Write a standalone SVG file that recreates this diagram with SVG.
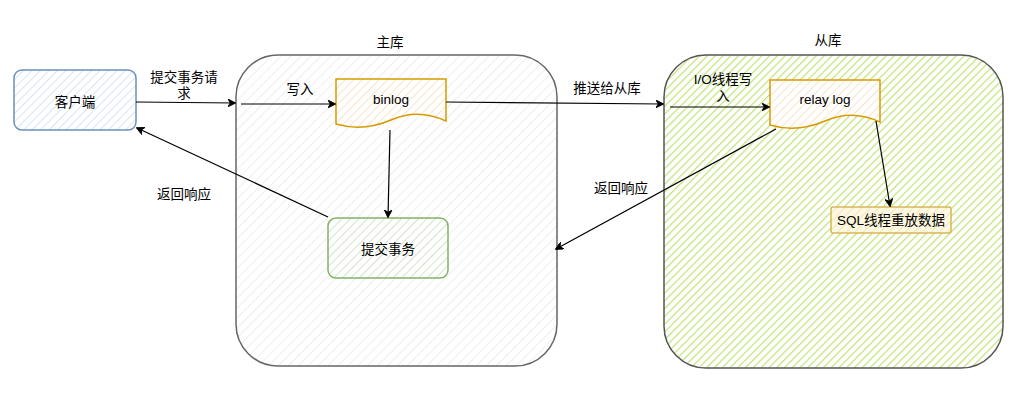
<svg xmlns="http://www.w3.org/2000/svg" width="1017" height="400" viewBox="0 0 1017 400">
<style>
text{font-family:"Liberation Sans","Noto Sans CJK SC",sans-serif;font-size:13.5px;fill:#000;text-anchor:middle;dominant-baseline:central}
.c{fill:none;stroke:#000;stroke-width:1.2}
</style>
<defs>
<pattern id="hGray" width="7" height="7" patternUnits="userSpaceOnUse" patternTransform="rotate(45)"><line x1="0" y1="0" x2="0" y2="7" stroke="#e8e8e8" stroke-width="1.5"/></pattern>
<pattern id="hGreen" width="5.5" height="5.5" patternUnits="userSpaceOnUse" patternTransform="rotate(45)"><line x1="0" y1="0" x2="0" y2="5.5" stroke="#c3e57e" stroke-width="2.6"/></pattern>
<pattern id="hBlue" width="6" height="6" patternUnits="userSpaceOnUse" patternTransform="rotate(45)"><line x1="0" y1="0" x2="0" y2="6" stroke="#c7dcf5" stroke-width="1.5"/></pattern>
<pattern id="hOrange" width="6" height="6" patternUnits="userSpaceOnUse" patternTransform="rotate(45)"><line x1="0" y1="0" x2="0" y2="6" stroke="#fbd9b5" stroke-width="1.5"/></pattern>
<pattern id="hLime" width="6" height="6" patternUnits="userSpaceOnUse" patternTransform="rotate(45)"><line x1="0" y1="0" x2="0" y2="6" stroke="#c2deb9" stroke-width="1.5"/></pattern>
<pattern id="hYellow" width="6" height="6" patternUnits="userSpaceOnUse" patternTransform="rotate(45)"><rect width="6" height="6" fill="#fdf8e4"/><line x1="0" y1="0" x2="0" y2="6" stroke="#f3e3a6" stroke-width="1.5"/></pattern>
<marker id="arr" viewBox="0 0 10 10" refX="9" refY="5" markerWidth="8" markerHeight="8" markerUnits="userSpaceOnUse" orient="auto"><path d="M0,0 L10,5 L0,10 L3,5 Z" fill="#000" stroke="#000" stroke-width="1"/></marker>
</defs>

<g id="master">
<rect x="236" y="55" width="321" height="311" rx="42" fill="url(#hGray)" stroke="#666" stroke-width="1.5"/>
<text x="390" y="42">主库</text>
</g>
<g id="slave">
<rect x="664" y="55" width="339" height="313" rx="42" fill="url(#hGreen)" stroke="#555" stroke-width="1.5"/>
<text x="828" y="40">从库</text>
</g>
<g id="client">
<rect x="14" y="70" width="122" height="60" rx="8" fill="url(#hBlue)" stroke="#6c8ebf" stroke-width="1.5"/>
<text x="75" y="102">客户端</text>
</g>
<g id="binlog">
<path d="M336,79 L446,79 L446,121 Q418,108 391,120 Q363,132 336,124 Z" fill="#fff" stroke="none"/>
<path d="M336,79 L446,79 L446,121 Q418,108 391,120 Q363,132 336,124 Z" fill="url(#hOrange)" stroke="#d79b00" stroke-width="1.5"/>
<text x="391" y="99">binlog</text>
</g>
<g id="relaylog">
<path d="M770,80 L880,80 L880,122 Q852,109 825,121 Q797,133 770,125 Z" fill="#fff" stroke="none"/>
<path d="M770,80 L880,80 L880,122 Q852,109 825,121 Q797,133 770,125 Z" fill="url(#hOrange)" stroke="#d79b00" stroke-width="1.5"/>
<text x="825" y="99">relay log</text>
</g>
<g id="commit">
<rect x="328" y="218" width="120" height="60" rx="8" fill="#fff" stroke="none"/>
<rect x="328" y="218" width="120" height="60" rx="8" fill="url(#hLime)" stroke="#82b366" stroke-width="1.5"/>
<text x="388" y="249">提交事务</text>
</g>
<g id="sql">
<rect x="831" y="207" width="120" height="26" rx="2" fill="url(#hYellow)" stroke="#d6b656" stroke-width="1.5"/>
<text x="891" y="220">SQL线程重放数据</text>
</g>

<g id="connectors">
<line class="c" x1="136" y1="102" x2="235" y2="103" marker-end="url(#arr)"/>
<line class="c" x1="241" y1="104" x2="335" y2="104" marker-end="url(#arr)"/>
<line class="c" x1="446" y1="102" x2="663" y2="104" marker-end="url(#arr)"/>
<line class="c" x1="670" y1="107" x2="769" y2="107" marker-end="url(#arr)"/>
<line class="c" x1="390" y1="130" x2="388" y2="217" marker-end="url(#arr)"/>
<line class="c" x1="328" y1="217" x2="137" y2="128" marker-end="url(#arr)"/>
<line class="c" x1="776" y1="129" x2="556" y2="249" marker-end="url(#arr)"/>
<line class="c" x1="876" y1="121" x2="890" y2="206" marker-end="url(#arr)"/>
<text x="184" y="77">提交事务请</text>
<text x="184" y="93">求</text>
<text x="300" y="89">写入</text>
<text x="607" y="88">推送给从库</text>
<text x="723" y="79">I/O线程写</text>
<text x="723" y="96">入</text>
<text x="184" y="194">返回响应</text>
<text x="621" y="188">返回响应</text>
</g>
</svg>
